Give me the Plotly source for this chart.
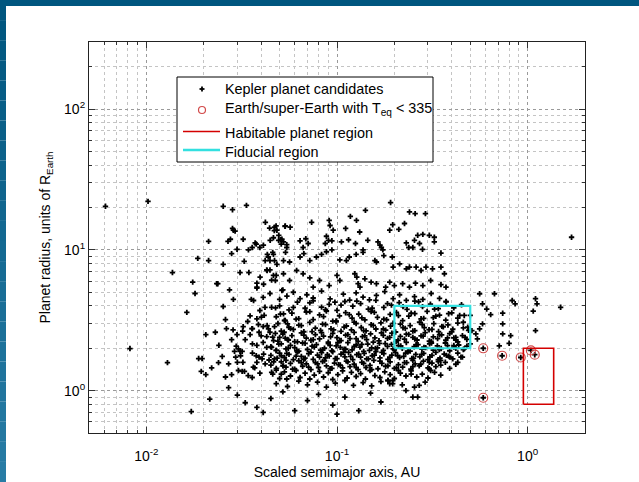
import plotly.graph_objects as go

# ---------------- data ----------------
# Sparse / far-left and small-a points
left_a = [0.0061, 0.0102, 0.0082, 0.0129, 0.0137, 0.0163, 0.0175, 0.018, 0.0186, 0.0188,
          0.0196, 0.0194, 0.0205, 0.0205, 0.0212, 0.0212, 0.0253, 0.0234, 0.0237, 0.0239,
          0.0253, 0.0253, 0.0263, 0.0268, 0.0273, 0.0276, 0.028, 0.028, 0.0283, 0.0283,
          0.0286, 0.0286, 0.0292, 0.0299, 0.0299, 0.031, 0.0322, 0.0326, 0.0322, 0.0335,
          0.0343, 0.0345, 0.0355, 0.0358, 0.036]
left_r = [20.4, 22.1, 1.99, 1.58, 6.9, 3.6, 5.9, 4.9, 8.7, 1.69,
          1.69, 1.37, 1.3, 2.5, 11.5, 8.4, 20.4, 5.75, 5.75, 1.58,
          7.9, 3.96, 2.76, 11.5, 5.2, 11.9, 9.4, 1.3, 19.3, 14.2,
          13.8, 4.45, 13.6, 10.1, 2.5, 6.9, 11.9, 8.3, 2.85, 20.7,
          10.0, 6.9, 4.45, 2.76, 2.76]

# Dense cluster, short periods (a ~ 0.03-0.056)
near_a = [0.0296, 0.0304, 0.031, 0.0318, 0.0312, 0.0294, 0.03, 0.0321, 0.0304, 0.0318,
          0.0327, 0.0342, 0.0377, 0.039, 0.0412, 0.0405, 0.038, 0.0364, 0.0359, 0.0394,
          0.0428, 0.0437, 0.0445, 0.0465, 0.0428, 0.0454, 0.048, 0.051, 0.054, 0.0524,
          0.048, 0.0454, 0.051, 0.0545, 0.0387, 0.0415, 0.0401, 0.0394, 0.038, 0.0419,
          0.0454, 0.0476, 0.0524, 0.0535, 0.0559, 0.0528, 0.05, 0.0556,
          0.033, 0.035, 0.036, 0.037, 0.039, 0.041, 0.042, 0.043, 0.034, 0.036,
          0.04, 0.044, 0.032, 0.035, 0.038, 0.041,
          0.022, 0.024, 0.025, 0.026, 0.027, 0.028, 0.029, 0.023, 0.026, 0.0285]
near_r = [2.07, 1.98, 1.9, 1.9, 1.77, 1.73, 1.59, 1.59, 1.39, 1.37,
          1.37, 1.28, 1.77, 1.73, 1.82, 1.68, 1.59, 1.47, 1.24, 1.33,
          2.42, 2.75, 2.6, 2.27, 2.03, 2.03, 1.93, 1.77, 1.64, 1.5,
          1.4, 1.35, 1.31, 1.21, 2.95, 3.43, 3.33, 3.71, 3.24, 3.91,
          3.91, 3.87, 3.51, 3.15, 2.82, 2.6, 2.39, 2.29,
          2.3, 2.5, 2.15, 1.45, 2.6, 2.2, 1.55, 2.9, 3.1, 1.85,
          2.45, 1.65, 2.65, 3.4, 2.1, 2.85,
          1.45, 2.1, 1.75, 3.2, 1.55, 2.3, 1.9, 2.6, 1.25, 2.7]

# Main cloud, radius 1.05-1.4
low_a = [0.046, 0.05, 0.053, 0.057, 0.061, 0.064, 0.068, 0.072, 0.076, 0.081,
         0.085, 0.09, 0.095, 0.101, 0.107, 0.113, 0.119, 0.126, 0.133, 0.141,
         0.149, 0.158, 0.168, 0.178, 0.19, 0.2, 0.215, 0.23, 0.245, 0.262,
         0.28, 0.3, 0.325, 0.35,
         0.048, 0.055, 0.063, 0.07, 0.079, 0.088, 0.098, 0.11, 0.122, 0.137,
         0.152, 0.17, 0.185, 0.196, 0.22, 0.255, 0.29]
low_r = [1.31, 1.22, 1.36, 1.27, 1.39, 1.24, 1.33, 1.21, 1.29, 1.37,
         1.25, 1.34, 1.2, 1.3, 1.38, 1.23, 1.35, 1.26, 1.32, 1.21,
         1.39, 1.28, 1.24, 1.36, 1.3, 1.22, 1.33, 1.27, 1.38, 1.25,
         1.31, 1.23, 1.35, 1.29,
         1.12, 1.07, 1.17, 1.1, 1.15, 1.06, 1.13, 1.18, 1.09, 1.14,
         1.08, 1.16, 1.18, 1.12, 1.1, 1.06, 1.15]

# Radius 1.4-1.65
band_h_a = [0.045, 0.048, 0.051, 0.054, 0.057, 0.06, 0.063, 0.066, 0.069, 0.073,
            0.077, 0.08, 0.084, 0.088, 0.092, 0.097, 0.102, 0.107, 0.112, 0.117,
            0.123, 0.129, 0.135, 0.142, 0.149, 0.156, 0.164, 0.172, 0.18, 0.19,
            0.2, 0.21, 0.221, 0.232, 0.244, 0.257, 0.27, 0.284, 0.3, 0.315,
            0.33, 0.35, 0.37, 0.39, 0.42,
            0.0465, 0.052, 0.0585, 0.065, 0.071, 0.079, 0.086, 0.094, 0.104, 0.114,
            0.126, 0.138, 0.152, 0.168, 0.185, 0.205, 0.226, 0.25, 0.275, 0.305, 0.34]
band_h_r = [1.52, 1.44, 1.6, 1.47, 1.56, 1.42, 1.63, 1.49, 1.55, 1.41,
            1.58, 1.46, 1.61, 1.5, 1.43, 1.57, 1.53, 1.45, 1.62, 1.48,
            1.54, 1.41, 1.59, 1.46, 1.51, 1.64, 1.43, 1.56, 1.49, 1.6,
            1.44, 1.53, 1.47, 1.58, 1.42, 1.55, 1.5, 1.62, 1.45, 1.57,
            1.48, 1.52, 1.59, 1.44, 1.54,
            1.6, 1.5, 1.42, 1.58, 1.47, 1.55, 1.63, 1.44, 1.52, 1.6,
            1.46, 1.56, 1.41, 1.62, 1.5, 1.45, 1.58, 1.48, 1.54, 1.43, 1.61]

# Radius 1.65-1.9
band_g_a = [0.045, 0.047, 0.05, 0.053, 0.056, 0.059, 0.062, 0.065, 0.068, 0.071,
            0.075, 0.079, 0.083, 0.087, 0.091, 0.095, 0.1, 0.105, 0.11, 0.115,
            0.121, 0.127, 0.133, 0.139, 0.146, 0.153, 0.16, 0.168, 0.176, 0.185,
            0.194, 0.203, 0.213, 0.224, 0.235, 0.247, 0.259, 0.272, 0.285, 0.3,
            0.315, 0.33, 0.347, 0.365, 0.385, 0.405, 0.43, 0.455,
            0.0485, 0.0545, 0.061, 0.067, 0.073, 0.081, 0.089, 0.098, 0.108, 0.118,
            0.13, 0.143, 0.157, 0.172, 0.189, 0.208, 0.229, 0.252, 0.278, 0.307,
            0.34, 0.375]
band_g_r = [1.78, 1.68, 1.85, 1.72, 1.81, 1.66, 1.88, 1.75, 1.7, 1.83,
            1.67, 1.79, 1.86, 1.71, 1.76, 1.89, 1.69, 1.82, 1.74, 1.87,
            1.66, 1.8, 1.73, 1.84, 1.68, 1.77, 1.89, 1.71, 1.83, 1.67,
            1.79, 1.86, 1.72, 1.75, 1.88, 1.69, 1.81, 1.74, 1.84, 1.66,
            1.78, 1.87, 1.7, 1.82, 1.76, 1.68, 1.85, 1.73,
            1.7, 1.84, 1.76, 1.67, 1.88, 1.73, 1.8, 1.69, 1.86, 1.75,
            1.82, 1.68, 1.79, 1.87, 1.72, 1.77, 1.85, 1.7, 1.81, 1.74,
            1.66, 1.78]

# Radius 1.9-2.2
band_f_a = [0.045, 0.048, 0.051, 0.054, 0.057, 0.06, 0.063, 0.066, 0.07, 0.074,
            0.078, 0.082, 0.086, 0.09, 0.094, 0.099, 0.104, 0.109, 0.114, 0.12,
            0.126, 0.132, 0.138, 0.145, 0.152, 0.159, 0.167, 0.175, 0.184, 0.193,
            0.2, 0.21, 0.22, 0.231, 0.242, 0.254, 0.266, 0.279, 0.292, 0.306,
            0.32, 0.336, 0.352, 0.37, 0.39, 0.41, 0.435, 0.46, 0.48,
            0.0495, 0.0555, 0.0615, 0.068, 0.076, 0.084, 0.092, 0.101, 0.111, 0.123,
            0.135, 0.148, 0.163, 0.179, 0.197, 0.216, 0.237, 0.26, 0.286, 0.313,
            0.344, 0.38, 0.42]
band_f_r = [2.05, 1.93, 2.15, 1.98, 2.1, 2.02, 1.91, 2.18, 1.96, 2.07,
            2.12, 1.94, 2.0, 2.16, 1.92, 2.08, 2.03, 1.97, 2.19, 1.95,
            2.11, 2.04, 1.9, 2.14, 2.01, 1.99, 2.17, 1.93, 2.06, 2.13,
            1.95, 2.09, 2.0, 2.2, 1.91, 2.05, 2.12, 1.97, 2.02, 2.15,
            1.94, 2.08, 1.99, 2.18, 1.92, 2.04, 2.11, 1.96, 2.07,
            2.14, 2.0, 1.92, 2.17, 2.04, 1.95, 2.1, 2.19, 1.97, 2.06,
            2.13, 1.93, 2.01, 2.16, 1.98, 2.08, 1.91, 2.12, 2.03, 2.18,
            1.96, 2.09, 2.0]

# Radius 2.2-2.6
band_e_a = [0.046, 0.049, 0.052, 0.055, 0.058, 0.062, 0.065, 0.069, 0.073, 0.077,
            0.081, 0.085, 0.09, 0.095, 0.1, 0.105, 0.111, 0.117, 0.123, 0.129,
            0.136, 0.143, 0.15, 0.158, 0.166, 0.175, 0.184, 0.194, 0.204, 0.215,
            0.226, 0.238, 0.25, 0.263, 0.276, 0.29, 0.305, 0.32, 0.337, 0.354,
            0.372, 0.39, 0.41, 0.43, 0.455, 0.48,
            0.0475, 0.0535, 0.06, 0.067, 0.075, 0.083, 0.0925, 0.103, 0.114, 0.126,
            0.14, 0.155, 0.171, 0.189, 0.209, 0.231, 0.256, 0.283, 0.312, 0.345,
            0.38, 0.42]
band_e_r = [2.4, 2.25, 2.52, 2.31, 2.46, 2.22, 2.57, 2.36, 2.28, 2.5,
            2.33, 2.44, 2.21, 2.55, 2.38, 2.27, 2.48, 2.34, 2.59, 2.24,
            2.42, 2.3, 2.53, 2.37, 2.26, 2.47, 2.35, 2.56, 2.23, 2.43,
            2.32, 2.51, 2.39, 2.29, 2.45, 2.58, 2.25, 2.41, 2.34, 2.49,
            2.28, 2.54, 2.37, 2.22, 2.46, 2.31,
            2.55, 2.36, 2.23, 2.48, 2.3, 2.58, 2.41, 2.26, 2.5, 2.34,
            2.45, 2.21, 2.57, 2.39, 2.28, 2.52, 2.33, 2.44, 2.24, 2.49,
            2.37, 2.29]

# Radius 2.6-3.1
band_d_a = [0.047, 0.051, 0.055, 0.059, 0.063, 0.067, 0.072, 0.077, 0.082, 0.087,
            0.093, 0.099, 0.105, 0.112, 0.119, 0.126, 0.134, 0.142, 0.151, 0.16,
            0.17, 0.18, 0.191, 0.203, 0.215, 0.228, 0.242, 0.256, 0.271, 0.287,
            0.304, 0.322, 0.341, 0.361, 0.382, 0.405, 0.43, 0.46, 0.49,
            0.049, 0.057, 0.065, 0.074, 0.084, 0.096, 0.109, 0.123, 0.138, 0.155,
            0.175, 0.197, 0.222, 0.25, 0.28, 0.315, 0.355, 0.4]
band_d_r = [2.85, 2.65, 2.98, 2.72, 2.92, 2.62, 3.05, 2.78, 2.68, 2.95,
            2.75, 3.08, 2.64, 2.88, 2.7, 3.0, 2.81, 2.66, 2.94, 2.74,
            3.03, 2.69, 2.87, 2.61, 2.97, 2.77, 2.9, 2.67, 3.06, 2.8,
            2.71, 2.99, 2.63, 2.84, 2.93, 2.73, 3.02, 2.79, 2.68,
            3.0, 2.76, 2.9, 2.63, 2.97, 2.7, 2.83, 3.07, 2.67, 2.91,
            2.74, 3.01, 2.8, 2.65, 2.95, 2.72, 2.86, 2.62]

# Radius 3.1-3.7
band_c_a = [0.048, 0.053, 0.058, 0.063, 0.069, 0.075, 0.081, 0.088, 0.095, 0.103,
            0.111, 0.12, 0.13, 0.14, 0.151, 0.163, 0.176, 0.19, 0.205, 0.221,
            0.238, 0.256, 0.276, 0.297, 0.32, 0.345, 0.372, 0.4, 0.43, 0.465,
            0.0505, 0.061, 0.072, 0.085, 0.099, 0.116, 0.135, 0.157, 0.182, 0.21,
            0.245, 0.285, 0.33, 0.385]
band_c_r = [3.35, 3.15, 3.55, 3.25, 3.62, 3.2, 3.45, 3.68, 3.12, 3.4,
            3.58, 3.28, 3.5, 3.18, 3.65, 3.32, 3.22, 3.48, 3.6, 3.14,
            3.38, 3.53, 3.24, 3.66, 3.3, 3.44, 3.17, 3.57, 3.27, 3.42,
            3.5, 3.22, 3.64, 3.36, 3.13, 3.47, 3.29, 3.6, 3.19, 3.41,
            3.55, 3.26, 3.38, 3.52]

# Radius 3.7-5.1
band_b_a = [0.05, 0.056, 0.062, 0.068, 0.075, 0.083, 0.091, 0.1, 0.11, 0.121,
            0.133, 0.146, 0.16, 0.176, 0.193, 0.212, 0.233, 0.256, 0.281, 0.309,
            0.34, 0.374, 0.41, 0.45,
            0.059, 0.072, 0.087, 0.105, 0.127, 0.153, 0.184, 0.222, 0.268, 0.325,
            0.0365, 0.041, 0.0445, 0.05, 0.0546, 0.059, 0.064, 0.0695, 0.075, 0.083,
            0.092, 0.0975, 0.108, 0.1165, 0.126, 0.137, 0.148, 0.161, 0.178, 0.197,
            0.213, 0.231, 0.255, 0.282, 0.312, 0.345, 0.373]
band_b_r = [4.0, 3.75, 4.25, 3.85, 4.35, 3.92, 4.1, 3.72, 4.3, 3.98,
            4.15, 3.8, 4.38, 3.9, 4.05, 4.22, 3.78, 4.32, 3.95, 4.12,
            3.83, 4.27, 3.88, 4.08,
            3.9, 4.2, 3.76, 4.05, 4.33, 3.85, 4.15, 3.95, 4.28, 3.8,
            4.37, 4.6, 4.9, 4.45, 4.7, 5.0, 4.5, 4.8, 4.55, 5.1,
            4.48, 4.25, 4.85, 4.4, 4.95, 4.62, 4.42, 4.75, 5.05, 4.5,
            4.8, 4.38, 4.65, 4.45, 4.9, 4.52, 4.3]

# Radius 5-8
up1_a = [0.038, 0.0395, 0.043, 0.0464, 0.0475, 0.0524, 0.0564, 0.0514, 0.0614, 0.0664,
         0.072, 0.075, 0.081, 0.091, 0.1, 0.1035, 0.124, 0.127, 0.129, 0.132,
         0.14, 0.151, 0.161, 0.18, 0.189, 0.2, 0.221, 0.24, 0.258, 0.282,
         0.31, 0.351, 0.373, 0.197, 0.213, 0.231, 0.24, 0.26, 0.276, 0.293,
         0.317, 0.351, 0.366, 0.0428, 0.0445, 0.048, 0.0454, 0.052, 0.0412, 0.038,
         0.038]
up1_r = [5.44, 6.4, 7.14, 6.58, 6.06, 6.77, 6.06, 5.15, 7.14, 6.77,
         6.33, 5.44, 6.06, 5.58, 6.58, 6.06, 6.77, 6.4, 5.75, 5.44,
         6.23, 5.9, 5.75, 5.44, 5.9, 5.58, 5.75, 5.44, 5.8, 5.58,
         6.06, 5.67, 5.44, 7.55, 7.96, 7.34, 7.55, 7.55, 7.14, 7.55,
         7.34, 7.55, 6.77, 7.2, 7.2, 6.6, 6.1, 5.2, 5.7, 5.8,
         5.35]

# Radius 8-12
up2_a = [0.042, 0.0436, 0.0464, 0.0484, 0.0524, 0.0564, 0.064, 0.067, 0.072, 0.078,
         0.083, 0.088, 0.094, 0.1035, 0.112, 0.116, 0.126, 0.137, 0.158, 0.161,
         0.195, 0.0372, 0.0411, 0.0446, 0.0464, 0.0494, 0.0514, 0.0524, 0.0545, 0.064,
         0.0686, 0.0706, 0.0664, 0.088, 0.0902, 0.094, 0.0868, 0.1055, 0.115, 0.125,
         0.137, 0.145, 0.164, 0.168, 0.171, 0.174, 0.176, 0.231, 0.25, 0.238,
         0.271, 0.281, 0.324, 0.351, 0.0431, 0.0445, 0.047, 0.0377, 0.0359, 0.0394,
         0.046, 0.0537, 0.051, 0.0545]
up2_r = [8.4, 8.9, 9.3, 7.9, 8.4, 8.2, 8.9, 9.4, 8.4, 8.9,
         9.3, 9.7, 10.0, 8.5, 8.4, 8.9, 9.3, 9.6, 8.4, 8.2,
         8.9, 11.2, 10.8, 11.7, 12.2, 11.7, 11.9, 11.4, 10.9, 11.6,
         12.0, 11.1, 10.4, 12.5, 11.7, 11.6, 11.1, 11.4, 11.8, 11.1,
         10.0, 11.7, 11.4, 10.8, 10.4, 10.0, 9.1, 11.2, 10.4, 10.4,
         11.1, 10.1, 11.4, 9.5, 9.3, 8.4, 8.4, 11.0, 10.4, 10.4,
         9.6, 9.6, 11.0, 10.4]

# Radius 12-22
up3_a = [0.191, 0.141, 0.24, 0.257, 0.291, 0.0421, 0.047, 0.0484, 0.0534, 0.0568,
         0.0736, 0.091, 0.092, 0.0955, 0.1175, 0.1265, 0.111, 0.1315, 0.196, 0.189,
         0.211, 0.226, 0.282, 0.305, 0.324, 0.265, 0.255, 0.0443, 0.0469, 0.0479,
         0.0495, 0.0506, 0.0535]
up3_r = [21.7, 19.1, 18.6, 18.1, 18.1, 15.7, 14.5, 13.8, 14.7, 14.5,
         15.7, 16.2, 14.9, 13.8, 17.3, 16.2, 14.2, 13.4, 15.1, 13.8,
         14.0, 15.4, 12.9, 12.7, 12.3, 12.7, 11.7, 14.3, 13.7, 14.8,
         12.7, 11.8, 14.8]

# Longer periods (a > 0.4) and points below the fiducial box
far_a = [0.64, 0.56, 0.67, 0.74, 0.74, 0.71, 0.56, 0.535, 0.545, 0.51,
         0.83, 0.86, 0.815, 0.8, 1.1, 1.12, 1.1, 1.07, 1.49, 0.44,
         0.46, 0.485, 0.47, 0.5, 0.42, 0.41, 0.58, 0.61, 0.58, 0.74,
         0.465, 0.5, 1.7,
         0.23, 0.25, 0.265, 0.27, 0.31, 0.185, 0.196, 0.189, 0.39, 0.447,
         0.35, 0.43, 0.305, 0.25, 0.245, 0.21,
         0.585, 0.585, 0.735, 0.92, 1.04, 1.09]
far_r = [3.47, 4.88, 4.88, 3.55, 2.98, 2.08, 2.75, 2.53, 2.33, 2.67,
         4.37, 4.14, 2.46, 2.17, 4.5, 4.14, 2.67, 3.67, 3.91, 3.42,
         3.06, 2.82, 2.39, 3.42, 2.39, 2.09, 4.14, 3.8, 2.98, 2.53,
         1.98, 2.15, 12.3,
         1.0, 0.9, 0.9, 1.09, 1.39, 1.18, 1.18, 1.12, 1.73, 1.73,
         1.64, 1.59, 1.59, 1.64, 1.31, 1.39,
         2.0, 0.89, 1.77, 1.72, 1.93, 1.80]

# Small planets (radius below 1)
small_a = [0.0172, 0.0215, 0.027, 0.03, 0.033, 0.038, 0.041, 0.045, 0.052, 0.06,
           0.07, 0.08, 0.095, 0.1, 0.11, 0.13, 0.15, 0.17]
small_r = [0.71, 0.87, 1.05, 0.93, 0.82, 0.76, 0.7, 0.88, 0.98, 0.72,
           0.85, 0.94, 0.79, 0.68, 0.9, 0.72, 0.96, 0.83]

# Earth/super-Earth candidates with Teq < 335 K
earth_a = [0.585, 0.585, 0.735, 0.92, 1.04, 1.09]
earth_r = [2.0, 0.89, 1.77, 1.72, 1.93, 1.80]

# Regions (a range, radius range)
habitable_a = [0.95, 1.37]
habitable_r = [0.8, 2.0]
fiducial_a = [0.2, 0.5]
fiducial_r = [2.0, 4.0]

# Axis ticks and legend labels
x_tickvals = [0.01, 0.1, 1]
x_ticktext = ["10<sup>-2</sup>", "10<sup>-1</sup>", "10<sup>0</sup>"]
y_tickvals = [1, 10, 100]
y_ticktext = ["10<sup>0</sup>", "10<sup>1</sup>", "10<sup>2</sup>"]
legend_labels = ["Kepler planet candidates",
                 "Earth/super-Earth with T<sub>eq</sub> &lt; 335",
                 "Habitable planet region",
                 "Fiducial region"]

# ---------------- build ----------------
groups_a = [left_a, near_a, low_a, band_h_a, band_g_a, band_f_a, band_e_a, band_d_a,
            band_c_a, band_b_a, up1_a, up2_a, up3_a, far_a, small_a]
groups_r = [left_r, near_r, low_r, band_h_r, band_g_r, band_f_r, band_e_r, band_d_r,
            band_c_r, band_b_r, up1_r, up2_r, up3_r, far_r, small_r]
kep_a, kep_r = [], []
for ga, gr in zip(groups_a, groups_r):
    for a, r in zip(ga, gr):
        kep_a.append(a)
        kep_r.append(r)

def box(xs, ys):
    return ([xs[0], xs[1], xs[1], xs[0], xs[0]], [ys[0], ys[0], ys[1], ys[1], ys[0]])

FONT = "Liberation Sans, Arial, sans-serif"
RED_C = "#d24a4a"
RED_L = "#d40000"
CYAN = "#33e0e0"

fig = go.Figure()
fig.add_trace(go.Scatter(x=kep_a, y=kep_r, mode="markers", name=legend_labels[0],
                         marker=dict(symbol="cross", size=4.5, color="black", line=dict(width=0))))
fig.add_trace(go.Scatter(x=earth_a, y=earth_r, mode="markers", name=legend_labels[1],
                         marker=dict(symbol="circle-open", size=9, color=RED_C,
                                     line=dict(width=1.2, color=RED_C))))
hx, hy = box(habitable_a, habitable_r)
fig.add_trace(go.Scatter(x=hx, y=hy, mode="lines", name=legend_labels[2],
                         line=dict(color=RED_L, width=1.6)))
fx, fy = box(fiducial_a, fiducial_r)
fig.add_trace(go.Scatter(x=fx, y=fy, mode="lines", name=legend_labels[3],
                         line=dict(color=CYAN, width=2.2)))

L, R, T, B = 89, 54, 42, 49
W, H = 639, 482
pw, ph = W - L - R, H - T - B
def px(x):
    return (x - L) / pw
def py(y):
    return (H - B - y) / ph

# slide frame (blue band on top and gradient band on the left)
shapes = [dict(type="rect", xref="paper", yref="paper", x0=px(0), x1=px(W), y0=py(6), y1=py(0),
               fillcolor="#00567f", line=dict(width=0), layer="below")]
nseg = 24
for i in range(nseg):
    y0 = i * H / nseg
    y1 = (i + 1) * H / nseg
    t = i / (nseg - 1)
    c = "rgb(%d,%d,%d)" % (int(0 + 40 * t), int(86 + 38 * t), int(127 + 38 * t))
    shapes.append(dict(type="rect", xref="paper", yref="paper", x0=px(0), x1=px(6),
                       y0=py(y1), y1=py(y0), fillcolor=c, line=dict(width=0), layer="below"))

# legend (drawn by hand to match MATLAB spacing)
LX0, LX1, LY0, LY1 = 177, 433, 77, 162
rows = [89, 109, 133, 151.5]
shapes.append(dict(type="rect", xref="paper", yref="paper", x0=px(LX0), x1=px(LX1),
                   y0=py(LY1), y1=py(LY0), fillcolor="white",
                   line=dict(color="black", width=1), layer="above"))
mx, my = 202, rows[0]
shapes.append(dict(type="line", xref="paper", yref="paper", x0=px(mx - 2.5), x1=px(mx + 2.5),
                   y0=py(my), y1=py(my), line=dict(color="black", width=1.8), layer="above"))
shapes.append(dict(type="line", xref="paper", yref="paper", x0=px(mx), x1=px(mx),
                   y0=py(my - 2.5), y1=py(my + 2.5), line=dict(color="black", width=1.8), layer="above"))
cx, cy = 202, rows[1] + 1
shapes.append(dict(type="circle", xref="paper", yref="paper", x0=px(cx - 3.5), x1=px(cx + 3.5),
                   y0=py(cy + 3.5), y1=py(cy - 3.5), line=dict(color=RED_C, width=1.2), layer="above"))
shapes.append(dict(type="line", xref="paper", yref="paper", x0=px(183), x1=px(220),
                   y0=py(rows[2] - 1.5), y1=py(rows[2] - 1.5), line=dict(color=RED_L, width=1.6), layer="above"))
shapes.append(dict(type="line", xref="paper", yref="paper", x0=px(183), x1=px(220),
                   y0=py(rows[3] - 1.5), y1=py(rows[3] - 1.5), line=dict(color=CYAN, width=2.5), layer="above"))

annotations = []
for lab, ry in zip(legend_labels, rows):
    annotations.append(dict(text=lab, xref="paper", yref="paper", x=px(223), y=py(ry),
                            xanchor="left", yanchor="middle", showarrow=False,
                            font=dict(family=FONT, size=14.4, color="black")))

axis_common = dict(type="log", showline=True, linecolor="#222", linewidth=1.2, mirror="ticks",
                   ticks="inside", ticklen=6, tickcolor="#333", automargin=False,
                   showgrid=True, gridcolor="#9a9a9a", griddash="dot", gridwidth=1,
                   zeroline=False, tickfont=dict(family=FONT, size=14, color="black"))

xminor = [m * 10 ** e for e in (-3, -2, -1, 0) for m in range(2, 10)]
yminor = [m * 10 ** e for e in (-1, 0, 1, 2) for m in range(2, 10)]

fig.update_layout(
    width=W, height=H, margin=dict(l=L, r=R, t=T, b=B, autoexpand=False),
    paper_bgcolor="white", plot_bgcolor="white",
    shapes=shapes, annotations=annotations, showlegend=False,
    xaxis=dict(axis_common, range=[-2.30103, 0.30103], tickvals=x_tickvals, ticktext=x_ticktext,
               ticklabelstandoff=10,
               minor=dict(tickvals=xminor, ticks="inside", ticklen=3, tickcolor="#333",
                          showgrid=True, gridcolor="#c4c4c4", griddash="dot", gridwidth=1),
               title=dict(text="Scaled semimajor axis, AU", standoff=2,
                          font=dict(family=FONT, size=14, color="black"))),
    yaxis=dict(axis_common, range=[-0.30103, 2.47712], tickvals=y_tickvals, ticktext=y_ticktext,
               minor=dict(tickvals=yminor, ticks="inside", ticklen=3, tickcolor="#333",
                          showgrid=True, gridcolor="#c4c4c4", griddash="dot", gridwidth=1),
               title=dict(text="Planet radius, units of R<sub>Earth</sub>", standoff=10,
                          font=dict(family=FONT, size=14, color="black"))),
)
fig.write_html("out.html", config={"displayModeBar": False},
               post_script="document.body.style.margin='0px';")
